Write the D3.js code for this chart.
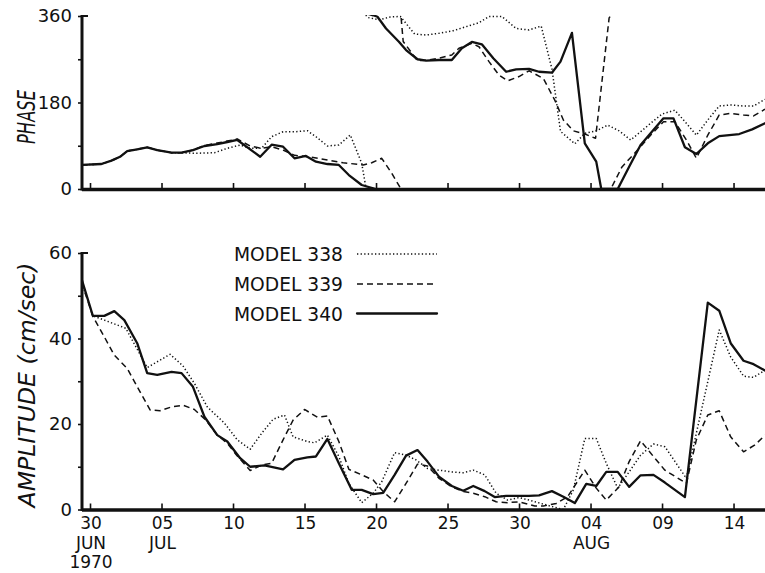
<!DOCTYPE html>
<html>
<head>
<meta charset="utf-8">
<script src="https://cdn.jsdelivr.net/npm/d3@7"></script>
<style>
  html, body { margin: 0; padding: 0; background: #fff; }
  svg { display: block; }
  text { font-family: "DejaVu Sans", sans-serif; fill: #111; }
</style>
</head>
<body>
<svg id="chart" width="765" height="573"></svg>
<script>
// Days counted from 30 June 1970; each series is a list of [day, value].

// Phase (degrees, 0-360)
const phase338 = [[-0.57,50],[0.8,52],[1.5,59],[2.1,67],[2.6,79],[3.3,82.6],[4.0,86.8],[4.7,81],[5.7,75.5],[6.4,75.5],[7.3,74.3],[8.7,75.5],[9.6,84.7],[10.5,91.5],[11.2,84.7],[12.0,84.7],[12.7,108.8],[13.5,119.2],[14.3,119],[15.2,121.3],[15.8,108.8],[16.6,89.5],[17.4,91.5],[18.2,112.4],[19.0,53.5],[19.3,1.5],[19.4,357],[20.2,352],[21.0,358],[21.7,359],[22.7,322.5],[23.5,320.4],[24.4,324],[25.4,329.4],[26.3,337.8],[27.2,346],[27.9,359],[28.8,359],[29.8,334],[30.7,331],[31.55,339],[32.3,250],[32.9,120],[33.9,94],[34.6,116],[35.4,121],[36.2,133],[37.0,121],[37.8,102],[38.5,119],[39.2,136.7],[40.0,156],[40.9,164],[41.7,136.7],[42.4,112],[43.2,143.6],[44.0,172.7],[44.8,174.8],[45.7,172.7],[46.4,172.7],[47.2,186.6]];
const phase339 = [[-0.57,50],[0.8,52],[1.5,59],[2.1,67],[2.6,79],[3.3,82.6],[4.0,86.8],[4.7,81],[5.7,75.5],[6.4,75.5],[7.2,81],[8.0,90.5],[8.9,95.5],[9.6,99.8],[10.3,104],[11.2,89.5],[12.0,84.7],[12.7,88],[13.5,81],[14.3,70],[15.35,67],[16.6,60.3],[17.7,54.7],[19.1,50],[19.7,54.7],[20.4,63.9],[21.1,32.7],[21.65,4.8],[21.75,358],[21.9,307],[22.9,267],[23.5,268],[24.4,272],[25.3,279],[25.8,293],[26.7,303],[27.2,296],[27.9,265],[28.6,237],[29.2,225],[30.0,234],[30.7,246],[31.7,230],[32.5,185],[33.1,143.6],[33.8,121],[34.6,114.4],[35.35,105.5],[36.3,356],[36.45,2],[37.2,46],[38.5,88],[39.2,112],[40.1,140],[40.9,140],[41.7,102],[42.4,64],[43.2,112],[44.0,154],[44.8,157.5],[45.7,154],[46.4,152],[47.2,166]];
const phase340 = [[-0.57,50],[0.8,52],[1.5,59],[2.1,67],[2.6,79],[3.3,82.6],[4.0,86.8],[4.7,81],[5.7,75.5],[6.4,75.5],[7.2,81],[8.0,89.5],[8.9,93.6],[9.6,97.8],[10.3,102],[11.9,67.2],[12.7,92.2],[13.5,88],[14.3,63.9],[15.1,68.7],[15.8,56.9],[16.6,52],[17.4,50],[18.1,29],[19.0,8.3],[19.8,1.5],[20.1,358.5],[20.7,334],[21.6,306.5],[22.1,289],[22.9,270],[23.5,267],[24.4,268.4],[25.3,268.4],[26.0,292.8],[26.7,306],[27.4,301],[28.2,272],[29.1,244],[29.8,249],[30.7,250],[31.4,244],[32.3,242],[32.9,265],[33.7,325],[34.6,95],[35.4,57],[35.75,0],[36.9,0],[37.7,46.4],[38.5,91.5],[39.2,116],[40.1,147],[40.8,147],[41.6,86.8],[42.4,72.8],[43.2,95],[44.0,110],[45.4,114.4],[46.3,124],[47.2,136.7]];

// Amplitude (cm/sec)
const amp338 = [[-0.57,53],[0.2,45.3],[1.0,44.3],[2.5,42.4],[4.0,33.2],[5.6,36.3],[6.5,33.6],[7.3,29.5],[8.2,24.0],[9.4,20.2],[10.3,16.3],[11.2,14.1],[12.0,17.8],[12.8,21.1],[13.6,22.1],[14.2,17.0],[15.2,15.9],[15.7,15.6],[16.6,17.4],[17.4,12.4],[18.1,6.1],[19.0,1.6],[19.8,3.8],[20.4,6.5],[21.3,13.3],[22.1,12.7],[22.8,11.6],[23.6,9.6],[24.4,9.2],[25.3,8.8],[26.1,8.6],[26.8,9.2],[27.6,8.1],[28.4,3.8],[29.2,2.2],[30.0,2.8],[30.7,2.2],[32.3,0.7],[33.1,0],[33.8,4.6],[34.6,16.6],[35.4,16.6],[36.1,10.8],[36.9,5.0],[37.7,8.8],[38.5,12.7],[39.4,15.3],[40.2,14.7],[41.7,7.3],[44.0,42.0],[44.8,35.7],[45.7,31.2],[46.4,30.9],[47.2,32.6]];
const amp339 = [[-0.57,53],[0.2,45.2],[1.0,40.4],[1.7,36.1],[2.6,33.0],[3.3,28.7],[4.2,23.3],[4.9,23.1],[5.7,24.0],[6.5,24.4],[7.3,23.4],[8.1,20.9],[8.9,17.4],[9.6,15.5],[10.3,12.5],[11.2,9.1],[12.0,10.4],[12.7,10.8],[13.5,16.3],[14.2,20.9],[15.0,23.4],[15.9,21.6],[16.6,21.9],[17.4,15.9],[18.1,9.4],[19.0,8.1],[19.8,6.9],[20.5,4.2],[21.3,1.8],[22.1,6.1],[22.9,10.6],[23.6,10.2],[24.4,7.3],[25.3,5.3],[26.1,4.2],[26.8,3.8],[27.6,3.0],[28.4,1.8],[29.2,1.6],[30.0,1.8],[31.1,0.8],[31.7,0.8],[32.6,1.4],[33.4,3.0],[34.6,9.2],[35.4,5.0],[36.1,2.2],[37.0,5.3],[37.7,11.2],[38.5,16.1],[39.4,12.4],[40.2,9.2],[41.7,6.1],[42.4,16.3],[43.2,22.1],[44.0,23.1],[44.8,17.0],[45.7,13.5],[46.5,15.1],[47.2,17.4]];
const amp340 = [[-0.57,53.7],[0.2,45.3],[1.0,45.3],[1.7,46.4],[2.4,44.3],[3.3,38.9],[4.0,31.9],[4.7,31.5],[5.7,32.2],[6.4,31.9],[7.2,28.7],[8.0,21.7],[8.9,17.4],[9.6,15.9],[10.5,12.0],[11.2,10.0],[12.2,10.3],[13.5,9.4],[14.3,11.6],[15.2,12.2],[15.8,12.4],[16.6,16.5],[17.4,10.8],[18.3,4.6],[19.0,4.6],[19.8,3.6],[20.5,3.9],[21.3,8.1],[22.1,12.6],[22.9,13.9],[23.6,11.2],[24.4,7.7],[25.3,5.5],[26.1,4.4],[26.8,5.5],[27.6,4.3],[28.3,2.9],[29.1,3.2],[30.7,3.2],[31.4,3.3],[32.3,4.3],[33.1,3.0],[33.9,1.5],[34.7,6.0],[35.4,5.5],[36.1,8.8],[36.9,8.8],[37.7,5.3],[38.5,8.0],[39.4,8.1],[40.2,6.3],[41.6,2.9],[43.2,48.4],[44.0,46.5],[44.8,38.9],[45.7,34.8],[46.4,34.0],[47.2,32.5]];

const seriesNames = ["MODEL 338", "MODEL 339", "MODEL 340"];

// Axis ticks
const dayTicks = [0, 5, 10, 15, 20, 25, 30, 35, 40, 45];
const dayTickLabels = [["30","JUN","1970"],["05","JUL"],["10"],["15"],["20"],["25"],["30"],["04","AUG"],["09"],["14"]];
const phaseTicks = [0, 90, 180, 270, 360];
const phaseTickLabels = ["0", "", "180", "", "360"];
const ampTicks = [0, 10, 20, 30, 40, 50, 60];
const ampTickLabels = ["0", "", "20", "", "40", "", "60"];

// Line styles per model
const styles = [
  { width: 1.5, dash: "1.3,2.3", cap: "butt" },   // 338 dotted
  { width: 1.5, dash: "6,4", cap: "butt" },       // 339 dashed
  { width: 2.3, dash: null, cap: "round" }        // 340 solid
];

const svg = d3.select("#chart");
const x = d3.scaleLinear().domain([-0.56, 47.2]).range([82, 765]);
const yPh = d3.scaleLinear().domain([0, 360]).range([189, 16]);
const yAmp = d3.scaleLinear().domain([0, 60]).range([509.5, 253]);

const defs = svg.append("defs");
defs.append("clipPath").attr("id", "clipPh").append("rect")
  .attr("x", x.range()[0]).attr("y", yPh(360) - 1)
  .attr("width", x.range()[1] - x.range()[0]).attr("height", yPh(0) - yPh(360) + 1);
defs.append("clipPath").attr("id", "clipAmp").append("rect")
  .attr("x", x.range()[0]).attr("y", yAmp(60) - 20)
  .attr("width", x.range()[1] - x.range()[0]).attr("height", yAmp(0) - yAmp(60) + 20);

function styleLine(sel, s) {
  sel.attr("fill", "none").attr("stroke", "#111")
     .attr("stroke-width", s.width)
     .attr("stroke-linejoin", "round")
     .attr("stroke-linecap", s.cap)
     .attr("stroke-dasharray", s.dash);
}

// Phase: a step of more than 300 degrees is a wrap through 0/360.
function unwrap(pts) {
  let off = 0;
  return pts.map((p, i) => {
    if (i > 0) {
      const diff = p[1] - pts[i - 1][1];
      if (diff > 300) off -= 360;
      else if (diff < -300) off += 360;
    }
    return [p[0], p[1] + off];
  });
}

const gPh = svg.append("g").attr("clip-path", "url(#clipPh)");
[phase338, phase339, phase340].forEach((pts, i) => {
  const un = unwrap(pts);
  [-360, 0, 360].forEach(k => {
    const line = d3.line().x(d => x(d[0])).y(d => yPh(d[1] + k));
    gPh.append("path").datum(un).attr("d", line).call(styleLine, styles[i]);
  });
});

const gAmp = svg.append("g").attr("clip-path", "url(#clipAmp)");
[amp338, amp339, amp340].forEach((pts, i) => {
  const line = d3.line().x(d => x(d[0])).y(d => yAmp(d[1]));
  gAmp.append("path").datum(pts).attr("d", line).call(styleLine, styles[i]);
});

// Axes
function drawPanel(yScale, ticks, labels) {
  const yAxis = d3.axisLeft(yScale).tickValues(ticks)
    .tickSize(4).tickPadding(6)
    .tickFormat((d, i) => labels[i]);
  const g = svg.append("g").attr("transform", `translate(${x.range()[0]},0)`).call(yAxis);
  g.select(".domain").remove();
  g.selectAll(".tick line").attr("stroke", "#111").attr("stroke-width", 1.6);
  g.selectAll(".tick text").style("font-size", "18px").attr("fill", "#111")
    .style("font-family", "'DejaVu Sans', sans-serif");
  // cap at the top of the scale
  const top = yScale(yScale.domain()[1]);
  const bot = yScale(0);
  svg.append("line").attr("x1", x.range()[0]).attr("x2", x.range()[0] + 6)
    .attr("y1", top).attr("y2", top).attr("stroke", "#111").attr("stroke-width", 2);
  // vertical axis line
  svg.append("line").attr("x1", x.range()[0]).attr("x2", x.range()[0])
    .attr("y1", top - 1).attr("y2", bot + 1.5).attr("stroke", "#111").attr("stroke-width", 3);
  // baseline with upward day ticks
  const xAxis = d3.axisBottom(x).tickValues(dayTicks).tickSize(-6).tickFormat("");
  const gx = svg.append("g").attr("transform", `translate(0,${bot})`).call(xAxis);
  gx.select(".domain").remove();
  gx.selectAll(".tick line").attr("stroke", "#111").attr("stroke-width", 1.6);
  svg.append("line").attr("x1", x.range()[0]).attr("x2", x.range()[1])
    .attr("y1", bot + 0.5).attr("y2", bot + 0.5).attr("stroke", "#111").attr("stroke-width", 3.5);
}
drawPanel(yPh, phaseTicks, phaseTickLabels);
drawPanel(yAmp, ampTicks, ampTickLabels);

// Date labels under the amplitude panel
const dateLabels = svg.append("g");
dayTicks.forEach((d, i) => {
  const t = dateLabels.append("text")
    .attr("x", x(d) + 1).attr("text-anchor", "middle")
    .style("font-size", "17px");
  dayTickLabels[i].forEach((s, j) => {
    t.append("tspan").attr("x", x(d) + 1).attr("y", 529 + j * 19.5).text(s);
  });
});

// Axis titles
svg.append("text").attr("transform", "translate(35,117) rotate(-90)")
  .attr("text-anchor", "middle").style("font-size", "25px").style("font-style", "italic")
  .attr("textLength", 54).attr("lengthAdjust", "spacingAndGlyphs").text("PHASE");
svg.append("text").attr("transform", "translate(35,385) rotate(-90)")
  .attr("text-anchor", "middle").style("font-size", "23px").style("font-style", "italic")
  .attr("textLength", 245).attr("lengthAdjust", "spacingAndGlyphs").text("AMPLITUDE (cm/sec)");

// Legend
const legendY = [254, 284, 313.5];
seriesNames.forEach((name, i) => {
  svg.append("text").attr("x", 234).attr("y", legendY[i] + 7)
    .style("font-size", "19px").attr("textLength", 109).attr("lengthAdjust", "spacingAndGlyphs")
    .text(name);
  svg.append("line").attr("x1", 357).attr("x2", 437)
    .attr("y1", legendY[i]).attr("y2", legendY[i]).call(styleLine, styles[i]);
});
</script>
</body>
</html>
